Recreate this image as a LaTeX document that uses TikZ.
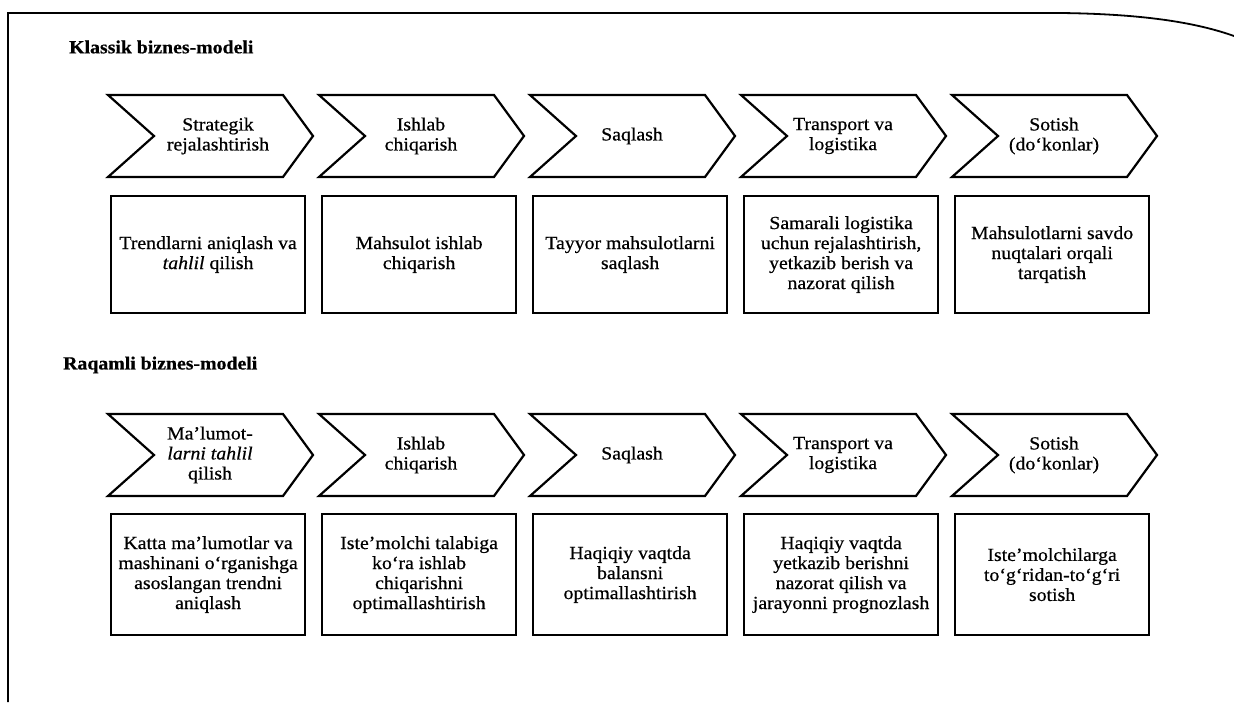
\documentclass[tikz,border=0pt]{standalone}
\usepackage{fontspec}
\setmainfont[FakeStretch=1.07,FakeBold=0.6]{Liberation Serif}
\newcommand\bodysize{\fontsize{18.5}{20}\selectfont}
% one chevron-shaped stage: [#1] = label offset, #2 = left x, #3 = top y, #4 = node name, #5 = label
\newcommand\stagechevron[5][102]{%
  \draw[outline] (#2,#3) -- ++(175,0) -- ++(30,41) -- ++(-30,41)
    -- ++(-175,0) -- ++(46,-41) -- cycle;
  \node[stagetext] (#4) at (#2+#1,#3+41) {#5};
}
\begin{document}
\begin{tikzpicture}[x=1pt,y=-1pt,
  outline/.style={line width=2.2pt, line join=miter},
  stagetext/.style={align=center, inner sep=0pt, font=\bodysize},
  infobox/.style={draw, line width=2.2pt, anchor=north west, minimum width=194pt,
    align=center, inner sep=0pt, font=\bodysize},
  heading/.style={anchor=west, inner sep=0pt, font=\bfseries\bodysize}]
\useasboundingbox (0,0) rectangle (1234,714);
\fill[white] (0,0) rectangle (1234,714);

% page frame
\draw[line width=1.8pt] (8,702) -- (8,13) -- (1060,13)
  .. controls (1150,14) and (1200,24) .. (1234,36);

% ---------- classic model ----------
\node[heading] (h1) at (69,47) {Klassik biznes-modeli};

\stagechevron[110]{108}{95}{c1}{Strategik\\rejalashtirish}
\stagechevron{319}{95}{c2}{Ishlab\\chiqarish}
\stagechevron{530}{95}{c3}{Saqlash}
\stagechevron{741}{95}{c4}{Transport va\\logistika}
\stagechevron{952}{95}{c5}{Sotish\\(do‘konlar)}

\node[infobox, minimum height=117pt] (b1) at (110,195) {Trendlarni aniqlash va\\\textit{tahlil} qilish};
\node[infobox, minimum height=117pt] (b2) at (321,195) {Mahsulot ishlab\\chiqarish};
\node[infobox, minimum height=117pt] (b3) at (532,195) {Tayyor mahsulotlarni\\saqlash};
\node[infobox, minimum height=117pt] (b4) at (743,195) {Samarali logistika\\uchun rejalashtirish,\\yetkazib berish va\\nazorat qilish};
\node[infobox, minimum height=117pt] (b5) at (954,195) {Mahsulotlarni savdo\\nuqtalari orqali\\tarqatish};

% ---------- digital model ----------
\node[heading] (h2) at (63,365) {Raqamli biznes-modeli};

\stagechevron{108}{414}{d1}{Ma’lumot-\\\textit{larni tahlil}\\qilish}
\stagechevron{319}{414}{d2}{Ishlab\\chiqarish}
\stagechevron{530}{414}{d3}{Saqlash}
\stagechevron{741}{414}{d4}{Transport va\\logistika}
\stagechevron{952}{414}{d5}{Sotish\\(do‘konlar)}

\node[infobox, minimum height=121pt] (e1) at (110,513) {Katta ma’lumotlar va\\mashinani o‘rganishga\\asoslangan trendni\\aniqlash};
\node[infobox, minimum height=121pt] (e2) at (321,513) {Iste’molchi talabiga\\ko‘ra ishlab\\chiqarishni\\optimallashtirish};
\node[infobox, minimum height=121pt] (e3) at (532,513) {Haqiqiy vaqtda\\balansni\\optimallashtirish};
\node[infobox, minimum height=121pt] (e4) at (743,513) {Haqiqiy vaqtda\\yetkazib berishni\\nazorat qilish va\\jarayonni prognozlash};
\node[infobox, minimum height=121pt] (e5) at (954,513) {Iste’molchilarga\\to‘g‘ridan-to‘g‘ri\\sotish};
\end{tikzpicture}
\end{document}
